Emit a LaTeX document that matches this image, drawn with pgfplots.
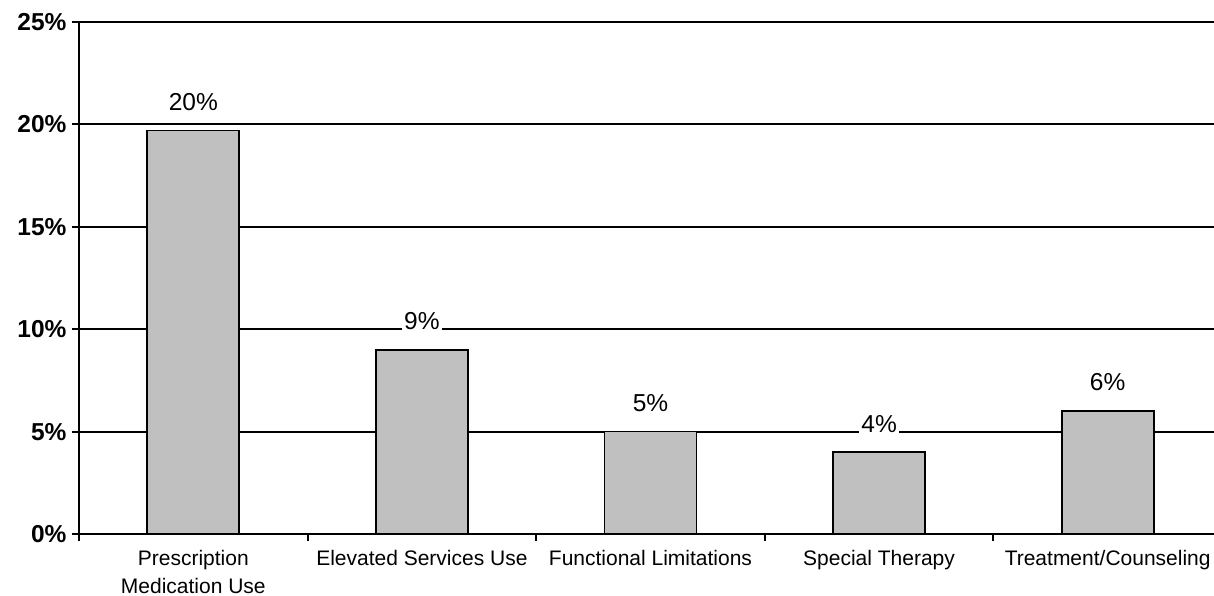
\documentclass[border=0pt]{standalone}
\usepackage{pgfplots}
\pgfplotsset{compat=1.18}
\usepackage{fontspec}
\setmainfont{Liberation Sans}
\definecolor{barfill}{HTML}{C0C0C0}

\begin{document}
\begin{tikzpicture}
% page area; the plot area runs a little past the right edge
\useasboundingbox (-79pt,-62pt) rectangle (1135pt,534pt);
\begin{axis}[
  at={(0,0)}, anchor=south west,
  scale only axis, width=1143pt, height=512pt,
  xmin=-0.5, xmax=4.5, ymin=0, ymax=25,
  axis lines=left, axis line style={-, line width=2pt},
  ybar, bar width=92pt,
  ytick={0,5,...,25},
  yticklabels={0\%,5\%,10\%,15\%,20\%,25\%},
  yticklabel style={font=\fontsize{24.5}{29}\selectfont\bfseries, xshift=-2pt},
  ymajorgrids, grid style={black, line width=2pt},
  tick align=outside, major tick length=7pt, minor tick length=7pt,
  tick style={black, line width=2pt},
  xtick={0,...,4},
  xticklabels={{Prescription\\Medication Use}, Elevated Services Use, Functional Limitations, Special Therapy, Treatment/Counseling},
  xticklabel style={align=center, font=\fontsize{21}{27.5}\selectfont, yshift=-6pt},
  major x tick style={draw=none},
  minor xtick={-0.5,0.5,...,4.5},
  nodes near coords={\pgfmathprintnumber[fixed,precision=0]{\pgfplotspointmeta}\%},
  every node near coord/.append style={font=\fontsize{24.5}{29}\selectfont, fill=white, inner sep=2pt, yshift=17pt},
  /pgf/number format/assume math mode=true,
]
\addplot[fill=barfill, draw=black, line width=1.8pt] coordinates {(0,19.7) (1,9) (2,5) (3,4) (4,6)};
\end{axis}
\end{tikzpicture}
\end{document}
